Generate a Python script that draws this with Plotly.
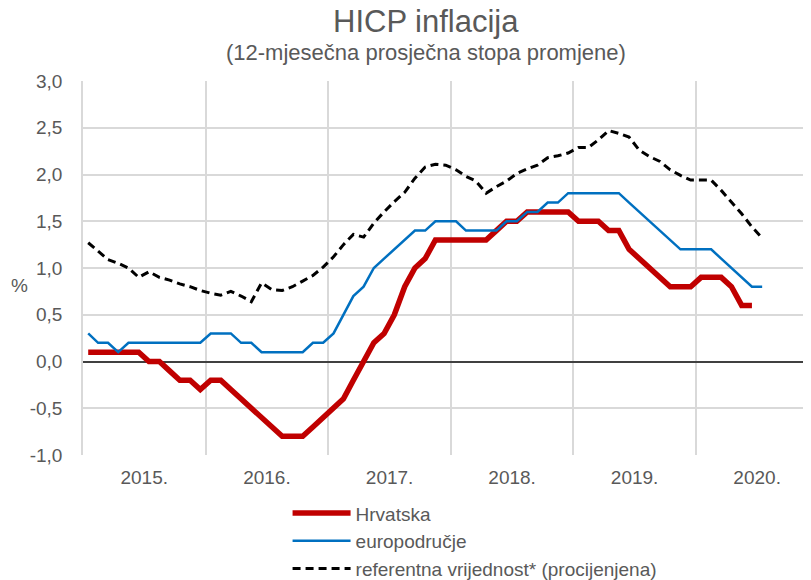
import pandas as pd
import plotly.graph_objects as go

# monthly, Jan 2015 onwards
months = pd.date_range("2015-01-01", "2020-07-01", freq="MS")

hrvatska = [0.1, 0.1, 0.1, 0.1, 0.1, 0.1, 0.0, 0.0, -0.1, -0.2, -0.2, -0.3,
            -0.2, -0.2, -0.3, -0.4, -0.5, -0.6, -0.7, -0.8, -0.8, -0.8, -0.7, -0.6,
            -0.5, -0.4, -0.2, 0.0, 0.2, 0.3, 0.5, 0.8, 1.0, 1.1, 1.3, 1.3,
            1.3, 1.3, 1.3, 1.3, 1.4, 1.5, 1.5, 1.6, 1.6, 1.6, 1.6, 1.6,
            1.5, 1.5, 1.5, 1.4, 1.4, 1.2, 1.1, 1.0, 0.9, 0.8, 0.8, 0.8,
            0.9, 0.9, 0.9, 0.8, 0.6, 0.6]
europodrucje = [0.3, 0.2, 0.2, 0.1, 0.2, 0.2, 0.2, 0.2, 0.2, 0.2, 0.2, 0.2,
                0.3, 0.3, 0.3, 0.2, 0.2, 0.1, 0.1, 0.1, 0.1, 0.1, 0.2, 0.2,
                0.3, 0.5, 0.7, 0.8, 1.0, 1.1, 1.2, 1.3, 1.4, 1.4, 1.5, 1.5,
                1.5, 1.4, 1.4, 1.4, 1.4, 1.5, 1.5, 1.6, 1.6, 1.7, 1.7, 1.8,
                1.8, 1.8, 1.8, 1.8, 1.8, 1.7, 1.6, 1.5, 1.4, 1.3, 1.2, 1.2,
                1.2, 1.2, 1.1, 1.0, 0.9, 0.8, 0.8]
referentna = [1.27, 1.18, 1.09, 1.05, 1.0, 0.9, 0.96, 0.9, 0.87, 0.83, 0.8, 0.76,
              0.73, 0.71, 0.75, 0.7, 0.64, 0.84, 0.77, 0.76, 0.8, 0.86, 0.92, 1.01,
              1.12, 1.25, 1.36, 1.33, 1.48, 1.6, 1.71, 1.81, 1.96, 2.08, 2.11, 2.1,
              2.05, 1.98, 1.93, 1.8, 1.87, 1.93, 2.01, 2.06, 2.1, 2.18, 2.2, 2.23,
              2.29, 2.29, 2.37, 2.47, 2.44, 2.4, 2.26, 2.19, 2.14, 2.05, 1.99, 1.94,
              1.94, 1.94, 1.83, 1.71, 1.58, 1.44, 1.32]

y_ticks = [-1.0, -0.5, 0.0, 0.5, 1.0, 1.5, 2.0, 2.5, 3.0]
y_ticktext = ["-1,0", "-0,5", "0,0", "0,5", "1,0", "1,5", "2,0", "2,5", "3,0"]

font = "Liberation Sans, Arial, sans-serif"
grey = "#595959"

fig = go.Figure()
fig.add_trace(go.Scatter(x=months[:len(hrvatska)], y=hrvatska, name="Hrvatska", mode="lines",
                         xperiod="M1", xperiodalignment="middle",
                         line=dict(color="#C00000", width=5.5)))
fig.add_trace(go.Scatter(x=months[:len(europodrucje)], y=europodrucje, name="europodručje", mode="lines",
                         xperiod="M1", xperiodalignment="middle",
                         line=dict(color="#0070C0", width=2.5)))
fig.add_trace(go.Scatter(x=months[:len(referentna)], y=referentna,
                         name="referentna vrijednost* (procijenjena)", mode="lines",
                         xperiod="M1", xperiodalignment="middle",
                         line=dict(color="black", width=3, dash="8px,5px")))

fig.update_xaxes(type="date", range=["2015-01-01", "2020-12-09"], dtick="M12", tick0="2015-01-01",
                 tickformat="%Y.", ticklabelmode="period", showgrid=True, gridcolor="#D9D9D9",
                 gridwidth=1.5, zeroline=False, showline=False, ticks="outside", ticklen=5,
                 tickcolor="rgba(0,0,0,0)", tickfont=dict(size=19, color=grey, family=font))
fig.update_yaxes(range=[-1, 3], tickvals=y_ticks, ticktext=y_ticktext, showgrid=True,
                 gridcolor="#D9D9D9", gridwidth=1.5, zeroline=True, zerolinecolor="#404040",
                 zerolinewidth=1.5, showline=True, linecolor="#D9D9D9", linewidth=1.5,
                 ticks="outside", ticklen=15, tickcolor="rgba(0,0,0,0)",
                 tickfont=dict(size=19, color=grey, family=font))

# page body has an 8px margin, so the figure is 8px smaller than the window
fig.update_layout(
    width=803, height=572,
    margin=dict(l=75, r=0, t=73, b=125, autoexpand=False),
    plot_bgcolor="white", paper_bgcolor="white",
    font=dict(family=font, color=grey),
    showlegend=True,
    legend=dict(x=0.281, y=-0.105, xanchor="left", yanchor="top", itemwidth=58,
                font=dict(size=19, color=grey, family=font),
                bgcolor="rgba(0,0,0,0)"),
    annotations=[
        dict(text="HICP inflacija", x=0.471, y=1.158, xref="paper", yref="paper",
             xanchor="center", yanchor="middle", showarrow=False,
             font=dict(size=31, color=grey, family=font)),
        dict(text="(12-mjesečna prosječna stopa promjene)", x=0.471, y=1.0775, xref="paper",
             yref="paper", xanchor="center", yanchor="middle", showarrow=False,
             font=dict(size=22, color=grey, family=font)),
        dict(text="%", x=-0.087, y=0.4545, xref="paper", yref="paper", showarrow=False,
             xanchor="center", yanchor="middle", font=dict(size=19, color=grey, family=font)),
    ],
)

fig.write_html("out.html")
